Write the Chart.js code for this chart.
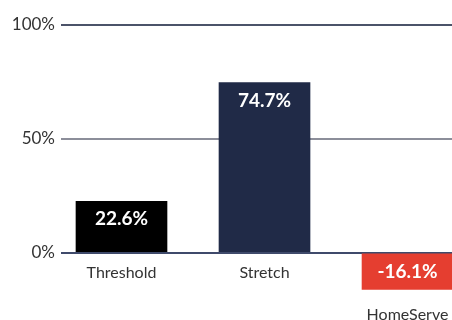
<!DOCTYPE html>
<html>
<head>
<meta charset="utf-8">
<script src="https://cdn.jsdelivr.net/npm/chart.js@4"></script>
<style>
html,body{margin:0;padding:0;background:#fff;overflow:hidden;}
#wrap{width:452px;height:320px;position:relative;}
</style>
</head>
<body>
<div id="wrap"><canvas id="c" width="452" height="320"></canvas></div>
<script>
const categories = ["Threshold", "Stretch", "HomeServe"];
const values = [22.6, 74.7, -16.1];
const valueLabels = ["22.6%", "74.7%", "-16.1%"];
const barColors = ["#000000", "#202a47", "#e53e30"];
const yTicks = [0, 50, 100];

const gridColors = {0: "#3f4a6b", 50: "#8c8e9a", 100: "#4b5369"};

const labelPlugin = {
  id: "labelPlugin",
  afterDatasetsDraw(chart) {
    const ctx = chart.ctx;
    const meta = chart.getDatasetMeta(0);
    ctx.save();
    ctx.textAlign = "center";
    ctx.textBaseline = "middle";
    meta.data.forEach((el, i) => {
      const v = values[i];
      const top = Math.min(el.y, el.base);
      const bottom = Math.max(el.y, el.base);
      ctx.fillStyle = "#ffffff";
      ctx.font = "bold 19px Lato";
      ctx.fillText(valueLabels[i], el.x, top + 18);
      ctx.fillStyle = "#333333";
      ctx.font = "16px Lato";
      const ly = v >= 0 ? el.base + 21 : bottom + 25;
      ctx.fillText(categories[i], el.x, ly);
    });
    ctx.restore();
  }
};

new Chart(document.getElementById("c"), {
  type: "bar",
  data: {
    datasets: [{
      data: categories.map((c, i) => ({x: i, y: values[i]})),
      backgroundColor: barColors,
      borderWidth: 0,
      barThickness: 91,
      clip: false
    }]
  },
  options: {
    responsive: false,
    animation: false,
    events: [],
    layout: {padding: {top: 25, bottom: 5, left: 0, right: 0}},
    plugins: {legend: {display: false}, tooltip: {enabled: false}},
    scales: {
      x: {
        type: "linear",
        display: false,
        offset: false,
        min: -0.423,
        max: 2.311
      },
      y: {
        min: -22.4,
        max: 100,
        afterBuildTicks: s => { s.ticks = yTicks.map(v => ({value: v})); },
        afterFit: s => { s.width = 61; },
        border: {display: false},
        grid: {
          drawTicks: false,
          lineWidth: 2,
          color: c => gridColors[c.tick.value] || "rgba(0,0,0,0)"
        },
        ticks: {
          padding: 6,
          color: "#333333",
          font: {family: "Lato", size: 17},
          callback: v => v + "%"
        }
      }
    }
  },
  plugins: [labelPlugin]
});
</script>
</body>
</html>
